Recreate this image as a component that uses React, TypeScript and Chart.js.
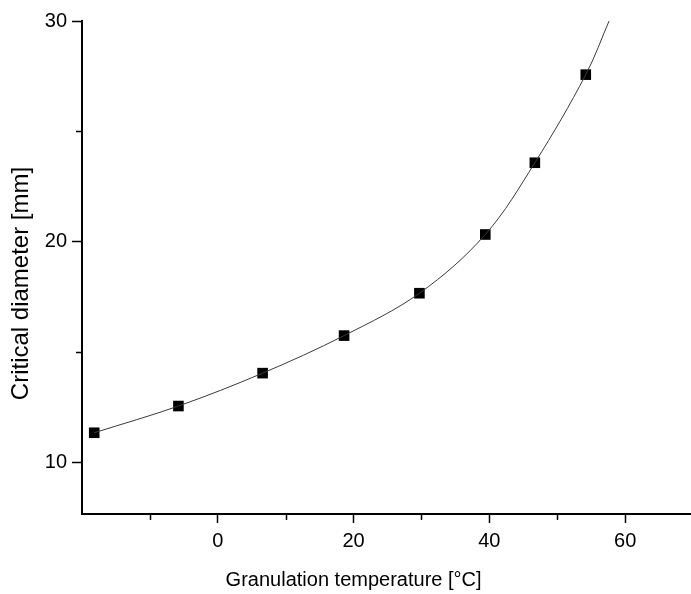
import React, { useEffect, useRef } from "react";
import { Chart, registerables } from "chart.js";

Chart.register(...registerables);

const temperatures = [-18.2, -5.8, 6.6, 18.6, 29.7, 39.4, 46.7, 54.2];
const diameters = [11.35, 12.56, 14.05, 15.75, 17.67, 20.33, 23.58, 27.57];
const curveX = [-18.2, -5.8, 6.6, 18.6, 29.7, 39.4, 46.7, 54.2, 57.7];
const curveY = [11.35, 12.56, 14.05, 15.75, 17.67, 20.33, 23.58, 27.57, 30.05];
const xMajorTicks = [0, 20, 40, 60];
const xMinorTicks = [-10, 10, 30, 50];
const yMajorTicks = [10, 20, 30];
const yMinorTicks = [15, 25];
const xTitle = "Granulation temperature [°C]";
const yTitle = "Critical diameter [mm]";

const FONT = "'Liberation Sans', Arial, sans-serif";

export default function App() {
  const ref = useRef<HTMLCanvasElement | null>(null);

  useEffect(() => {
    if (!ref.current) return;
    const extras = {
      id: "extras",
      afterDraw(chart: any) {
        const ctx = chart.ctx;
        const xs = chart.scales.x;
        const ys = chart.scales.y;
        const area = chart.chartArea;
        ctx.save();
        ctx.strokeStyle = "#000";
        ctx.lineWidth = 1.5;
        xMinorTicks.forEach((v) => {
          const px = Math.round(xs.getPixelForValue(v)) + 0.5;
          ctx.beginPath();
          ctx.moveTo(px, area.bottom);
          ctx.lineTo(px, area.bottom + 6);
          ctx.stroke();
        });
        yMinorTicks.forEach((v) => {
          const py = Math.round(ys.getPixelForValue(v)) + 0.5;
          ctx.beginPath();
          ctx.moveTo(area.left - 6, py);
          ctx.lineTo(area.left, py);
          ctx.stroke();
        });
        ctx.fillStyle = "#000";
        ctx.textAlign = "center";
        ctx.textBaseline = "middle";
        ctx.font = `20px ${FONT}`;
        ctx.fillText(xTitle, xs.getPixelForValue(20), 580);
        ctx.translate(21, (area.top + area.bottom) / 2 + 16);
        ctx.rotate(-Math.PI / 2);
        ctx.font = `24px ${FONT}`;
        ctx.fillText(yTitle, 0, 0);
        ctx.restore();
      },
    };

    const chart = new Chart(ref.current, {
      type: "scatter",
      data: {
        datasets: [
          {
            type: "line",
            data: curveX.map((x, i) => ({ x, y: curveY[i] })),
            borderColor: "#3a3a3a",
            borderWidth: 1,
            pointRadius: 0,
            tension: 0.35,
            fill: false,
          } as any,
          {
            data: temperatures.map((x, i) => ({ x, y: diameters[i] })),
            pointStyle: "rect",
            pointRadius: 7.5,
            pointBackgroundColor: "#000",
            pointBorderColor: "#000",
            pointBorderWidth: 0,
          },
        ],
      },
      options: {
        animation: false,
        responsive: false,
        maintainAspectRatio: false,
        devicePixelRatio: 1,
        layout: { autoPadding: false, padding: { top: 21, right: 0, bottom: 0, left: 0 } },
        plugins: { legend: { display: false }, tooltip: { enabled: false } },
        scales: {
          x: {
            type: "linear",
            min: -20,
            max: 69.7,
            afterBuildTicks: (s: any) => {
              s.ticks = xMajorTicks.map((v) => ({ value: v }));
            },
            afterFit: (s: any) => {
              s.height = 80;
              s.paddingLeft = 0;
              s.paddingRight = 0;
            },
            border: { display: true, color: "#000", width: 2 },
            grid: {
              drawOnChartArea: false,
              drawTicks: true,
              tickLength: 9,
              tickColor: "#000",
              tickWidth: 1.5,
            },
            ticks: {
              color: "#000",
              font: { size: 20, family: FONT },
              padding: 6,
              maxRotation: 0,
              autoSkip: false,
            },
          },
          y: {
            type: "linear",
            min: 7.67,
            max: 30,
            afterBuildTicks: (s: any) => {
              s.ticks = yMajorTicks.map((v) => ({ value: v }));
            },
            afterFit: (s: any) => {
              s.width = 82;
            },
            border: { display: true, color: "#000", width: 2 },
            grid: {
              drawOnChartArea: false,
              drawTicks: true,
              tickLength: 10,
              tickColor: "#000",
              tickWidth: 1.5,
            },
            ticks: {
              color: "#000",
              font: { size: 20, family: FONT },
              padding: 5,
              autoSkip: false,
            },
          },
        },
      },
      plugins: [extras],
    } as any);

    return () => chart.destroy();
  }, []);

  return (
    <div style={{ position: "absolute", left: 0, top: 0, width: 691, height: 594, background: "#fff" }}>
      <canvas ref={ref} width={691} height={594} style={{ display: "block", width: 691, height: 594 }} />
    </div>
  );
}
